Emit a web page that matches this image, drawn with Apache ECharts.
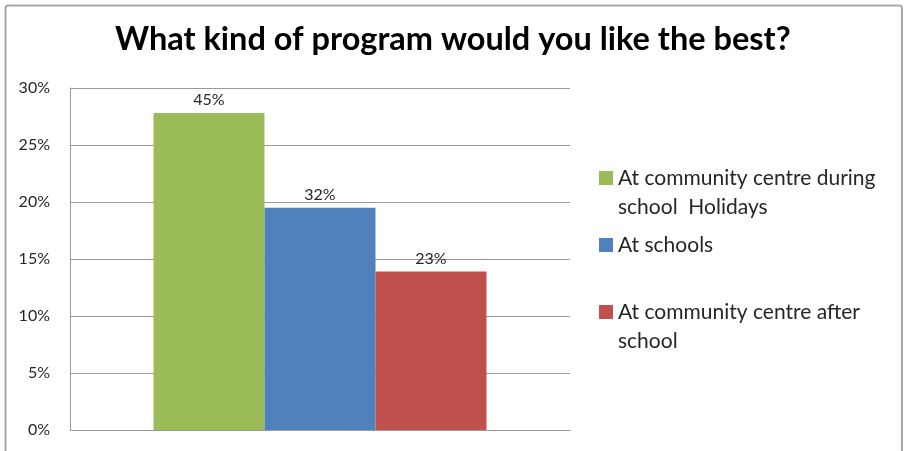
<!DOCTYPE html>
<html>
<head>
<meta charset="utf-8">
<style>
  html, body { margin: 0; padding: 0; background: #ffffff; }
  #chart { width: 904px; height: 451px; }
</style>
<script src="https://cdn.jsdelivr.net/npm/echarts@6/dist/echarts.min.js"></script>
</head>
<body>
<div id="chart"></div>
<script>
// Survey answers: raw bar heights on the % axis, labelled with each answer's share of the total
const categories = ['At community centre during\nschool  Holidays', 'At schools', 'At community centre after\nschool'];
const values = [27.8, 19.5, 13.9];
const colors = ['#9BBB59', '#4F81BD', '#C0504D'];
const yTicks = { min: 0, max: 30, interval: 5 };

const FONT = 'Lato, "Open Sans", sans-serif';
const total = values.reduce((a, b) => a + b, 0);

const chart = echarts.init(document.getElementById('chart'), null, { renderer: 'canvas' });

const series = categories.map((name, i) => ({
  name: name,
  type: 'bar',
  data: [values[i]],
  itemStyle: { color: colors[i] },
  barGap: '0%',
  barCategoryGap: '33.4%',
  label: {
    show: true,
    position: 'top',
    distance: 5,
    fontFamily: FONT,
    fontSize: 16,
    color: '#262626',
    formatter: p => Math.round(p.value / total * 100) + '%'
  }
}));

// One legend block per answer; a leading blank line keeps the swatch beside the first text line
const legendTops = [134.5, 230.5, 268.5];
const legends = categories.map((name, i) => ({
  orient: 'vertical',
  left: 599,
  top: legendTops[i],
  padding: 0,
  itemWidth: 14,
  itemHeight: 14,
  itemGap: 0,
  icon: 'rect',
  data: [name],
  formatter: n => (n.indexOf('\n') >= 0 ? '\n' + n : n),
  textStyle: {
    fontFamily: FONT,
    fontSize: 21,
    color: '#262626',
    lineHeight: 29
  }
}));

chart.setOption({
  backgroundColor: '#ffffff',
  animation: false,
  title: {
    text: 'What kind of program would you like the best?',
    left: 110,
    top: 18,
    textStyle: { fontFamily: FONT, fontSize: 32.5, fontWeight: 'bold', color: '#000000' }
  },
  graphic: [{
    type: 'rect',
    shape: { x: 5.5, y: 5.5, width: 896.5, height: 460, r: 3 },
    style: { fill: 'none', stroke: '#a8a8a8', lineWidth: 2 },
    silent: true,
    z: 100
  }],
  legend: legends,
  grid: { left: 70, right: 334, top: 88, bottom: 21, containLabel: false },
  xAxis: {
    type: 'category',
    data: [''],
    axisLine: { show: true, lineStyle: { color: '#9a9a9a', width: 1 } },
    axisTick: { show: false },
    axisLabel: { show: false }
  },
  yAxis: {
    type: 'value',
    min: yTicks.min,
    max: yTicks.max,
    interval: yTicks.interval,
    axisLine: { show: true, lineStyle: { color: '#9a9a9a', width: 1 } },
    axisTick: { show: false },
    splitLine: { show: true, lineStyle: { color: '#9a9a9a', width: 1 } },
    axisLabel: {
      margin: 20,
      fontFamily: FONT,
      fontSize: 16,
      color: '#262626',
      formatter: '{value}%'
    }
  },
  series: series
});
</script>
</body>
</html>
